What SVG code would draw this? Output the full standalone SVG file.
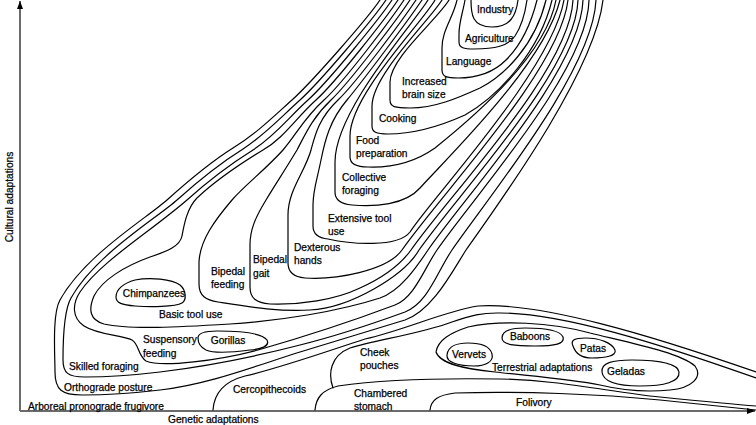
<svg xmlns="http://www.w3.org/2000/svg" width="756" height="425" viewBox="0 0 756 425">
<defs>
<style>
.c{fill:none;stroke:#000;stroke-width:1.2;stroke-linejoin:round;stroke-linecap:round}
.t{font-family:"Liberation Sans",Arial,sans-serif;font-size:10.2px;fill:#000;stroke:#000;stroke-width:0.25}
.ax{stroke:#6b6b6b;stroke-width:2;fill:none}
</style>
<marker id="arr" markerUnits="userSpaceOnUse" viewBox="0 0 8 6" refX="8" refY="3" markerWidth="8" markerHeight="6" orient="auto"><path d="M0,0 L8,3 L0,6 z" fill="#000"/></marker>
</defs>
<rect width="756" height="425" fill="#fff"/>
<g id="axes">
<line class="ax" x1="20" y1="411" x2="20" y2="1" marker-end="url(#arr)"/>
<line class="ax" x1="20" y1="411" x2="755" y2="411" marker-end="url(#arr)"/>
<text class="t" x="168" y="423">Genetic adaptations</text>
<text class="t" transform="translate(12.5,197) rotate(-90)" text-anchor="middle">Cultural adaptations</text>
</g>
<g id="connectors">
<g id="arboreal"><text class="t" x="28" y="410">Arboreal pronograde frugivore</text></g>
<g id="orthograde">
<path class="c" d="M380,0 C368,18 312,82 292,100 C272,118 257,133 233,148 C209,163 187,182 167,200 C147,218 85,255 60,300 C52,314 55,355 55,372 C55,390 62,395 82,395 C110,395 135,393 160,390 C210,384 255,366 300,352 C335,341 370,331 405,320 C432,311 452,272 466,250 C505,195 595,70 603,0"/>
<text class="t" x="64" y="391">Orthograde posture</text>
</g>
<g id="skilled">
<path class="c" d="M386,0 C374,18 320,82 300,100 C280,118 266,134 243,149 C219,164 197,182 177,200 C157,218 95,255 71,298 C63,312 63,345 63,360 C63,373 68,377 85,377 C110,377 135,375 160,372 C200,367 250,358 300,345 C340,335 372,324 405,312 C428,303 437,272 452,250 C490,195 593,70 596,0"/>
<text class="t" x="69" y="370">Skilled foraging</text>
</g>
<g id="suspensory">
<path class="c" d="M392,0 C380,18 328,82 308,100 C288,118 276,135 253,150 C229,165 207,182 187,200 C150,232 100,262 80,292 C72,304 72,318 84,326 C98,335 122,335 132,340 C139,344 138,356 146,361 C162,368 220,360 258,350 C300,338 355,320 395,305 C414,298 424,269 437,250 C475,195 588,70 589,0"/>
<text class="t" x="143" y="343">Suspensory</text>
<text class="t" x="143" y="357">feeding</text>
</g>
<g id="gorillas">
<path class="c" d="M198,338 C198,333 205,331 217,331 C240,331 262,333 267,340 C270,346 262,349 250,350 C235,352 215,354 206,350 C200,347 198,343 198,338 Z"/>
<text class="t" x="228" y="344" text-anchor="middle">Gorillas</text>
</g>
<g id="basic-tool-use">
<path class="c" d="M398,0 C386,18 336,82 316,100 C296,118 284,138 263,150 C240,164 214,182 197,198 C187,208 184,225 182,236 C180,246 168,251 150,257 C125,266 102,280 94,296 C88,310 90,320 104,324 C130,330 180,327 230,324 C280,321 340,311 380,298 C400,291 416,268 428,250 C466,195 581,70 583,0"/>
<text class="t" x="159" y="318">Basic tool use</text>
</g>
<g id="chimpanzees">
<path class="c" d="M116,297 C116,289 124,283 135,280 C150,277 172,279 180,285 C186,290 187,300 182,303 C175,307 150,307 135,306 C122,305 116,303 116,297 Z"/>
<text class="t" x="154" y="297" text-anchor="middle">Chimpanzees</text>
</g>
<g id="bipedal-feeding">
<path class="c" d="M404,0 C392,18 344,82 324,100 C304,118 296,135 283,150 C265,170 245,185 232,200 C215,220 200,240 199,262 L199,284 C199,296 206,300 218,302 C250,307 280,312 310,310 C350,308 404,276 419,250 C457,195 576,70 578,0"/>
<text class="t" x="211" y="275">Bipedal</text>
<text class="t" x="211" y="288">feeding</text>
</g>
<g id="bipedal-gait">
<path class="c" d="M410,0 C398,18 350,82 331,100 C312,118 305,135 297,150 C285,170 275,185 266,200 C255,218 250,230 250,245 L250,287 C250,298 256,303 270,304 C300,305 335,300 360,288 C380,279 398,268 411,250 C449,195 570,70 573,0"/>
<text class="t" x="253" y="263">Bipedal</text>
<text class="t" x="253" y="277">gait</text>
</g>
<g id="dexterous-hands">
<path class="c" d="M416,0 C404,18 357,82 338,100 C319,118 315,135 311,150 C305,172 288,190 288,215 L288,263 C288,272 293,277 305,278 C335,280 387,271 402,250 C440,195 560,70 568,0"/>
<text class="t" x="294" y="251">Dexterous</text>
<text class="t" x="294" y="264">hands</text>
</g>
<g id="extensive-tool-use">
<path class="c" d="M422,0 C410,18 362,82 347,100 C330,120 325,140 321,160 C317,180 313,190 313,205 L313,226 C313,234 318,238 328,239 C350,244 398,248 410,232 C430,200 552,70 564,0"/>
<text class="t" x="328" y="222">Extensive tool</text>
<text class="t" x="328" y="235">use</text>
</g>
<g id="collective-foraging">
<path class="c" d="M428,0 C415,22 335,110 335,162 L335,192 C335,200 340,204 352,205 C375,207 405,205 420,188 C445,160 544,65 560,0"/>
<text class="t" x="342" y="181">Collective</text>
<text class="t" x="342" y="194">foraging</text>
</g>
<g id="food-preparation">
<path class="c" d="M435,0 C423,22 350,95 350,136 L350,157 C350,164 356,167 368,167 C395,168 418,160 435,148 C460,128 545,60 556,0"/>
<text class="t" x="356" y="144">Food</text>
<text class="t" x="356" y="157">preparation</text>
</g>
<g id="cooking">
<path class="c" d="M442,0 C430,20 372,75 372,106 L372,126 C372,132 376,134 388,134 C415,134 445,124 465,115 C500,95 540,50 552,0"/>
<text class="t" x="379" y="122">Cooking</text>
</g>
<g id="increased-brain-size">
<path class="c" d="M449,0 C437,20 390,58 390,82 L390,100 C390,107 395,108 410,108 C435,108 458,98 480,88 C505,75 535,45 546,0"/>
<text class="t" x="402" y="85">Increased</text>
<text class="t" x="402" y="98">brain size</text>
</g>
<g id="language">
<path class="c" d="M457,0 C453,18 442,30 442,48 L442,70 C442,77 447,78 458,78 C478,78 494,72 506,60 C518,48 530,28 537,0"/>
<text class="t" x="446" y="65">Language</text>
</g>
<g id="agriculture">
<path class="c" d="M465,0 C463,12 459,22 459,34 L459,42 C459,48 464,49 474,49 C495,49 508,46 515,36 C521,27 525,14 527,0"/>
<text class="t" x="465" y="42">Agriculture</text>
</g>
<g id="industry">
<path class="c" d="M471,0 C471,14 472,27 492,27 C510,27 516,16 518,0"/>
<text class="t" x="477" y="12.5">Industry</text>
</g>
<g id="cercopithecoids">
<path class="c" d="M213,410 C214,395 222,382 245,376 C280,368 325,352 365,339 C405,330 445,311 478,306 C540,302 650,335 756,372"/>
<text class="t" x="233" y="393">Cercopithecoids</text>
</g>
<g id="cheek-pouches">
<path class="c" d="M333,388 C328,374 330,356 350,348 C375,340 420,334 452,322 C472,315 482,313 497,313 C560,312 660,344 756,378"/>
<text class="t" x="360" y="356">Cheek</text>
<text class="t" x="360" y="369">pouches</text>
</g>
<g id="terrestrial-adaptations">
<path class="c" d="M436,352 C438,340 450,333 468,327 C500,320 550,322 590,333 C635,344 680,353 695,366 C703,377 692,388 670,390 C650,392 625,391 600,385 C570,379 530,376 495,372 C465,369 440,364 436,352 Z"/>
<text class="t" x="492" y="371">Terrestrial adaptations</text>
</g>
<g id="vervets">
<path class="c" d="M447,355 C448,346 458,343 468,343 C480,343 490,346 492,354 C494,362 485,366 474,366 C460,366 446,363 447,355 Z"/>
<text class="t" x="469" y="358" text-anchor="middle">Vervets</text>
</g>
<g id="baboons">
<path class="c" d="M502,338 C502,330 512,328 525,328 C545,328 560,330 563,337 C565,344 555,346 535,346 C515,346 502,345 502,338 Z"/>
<text class="t" x="530" y="340" text-anchor="middle">Baboons</text>
</g>
<g id="patas">
<path class="c" d="M573,346 C570,340 575,338 585,338 C600,338 612,343 615,350 C617,356 605,358 592,358 C580,358 575,352 573,346 Z"/>
<text class="t" x="593" y="352" text-anchor="middle">Patas</text>
</g>
<g id="geladas">
<path class="c" d="M602,372 C601,363 612,360 632,360 C660,360 678,364 679,372 C680,382 664,386 640,386 C616,386 603,381 602,372 Z"/>
<text class="t" x="626" y="375" text-anchor="middle">Geladas</text>
</g>
<g id="chambered-stomach">
<path class="c" d="M315,410 C316,398 322,390 338,386 C380,380 440,378 500,379 C560,380 610,392 660,397 C700,401 730,404 756,406"/>
<text class="t" x="354" y="397">Chambered</text>
<text class="t" x="354" y="410">stomach</text>
</g>
<g id="folivory">
<path class="c" d="M430,410 C431,400 438,395 455,393 C520,391 600,394 660,400 C700,404 730,407 756,410"/>
<text class="t" x="516" y="406">Folivory</text>
</g>
</g>
</svg>
